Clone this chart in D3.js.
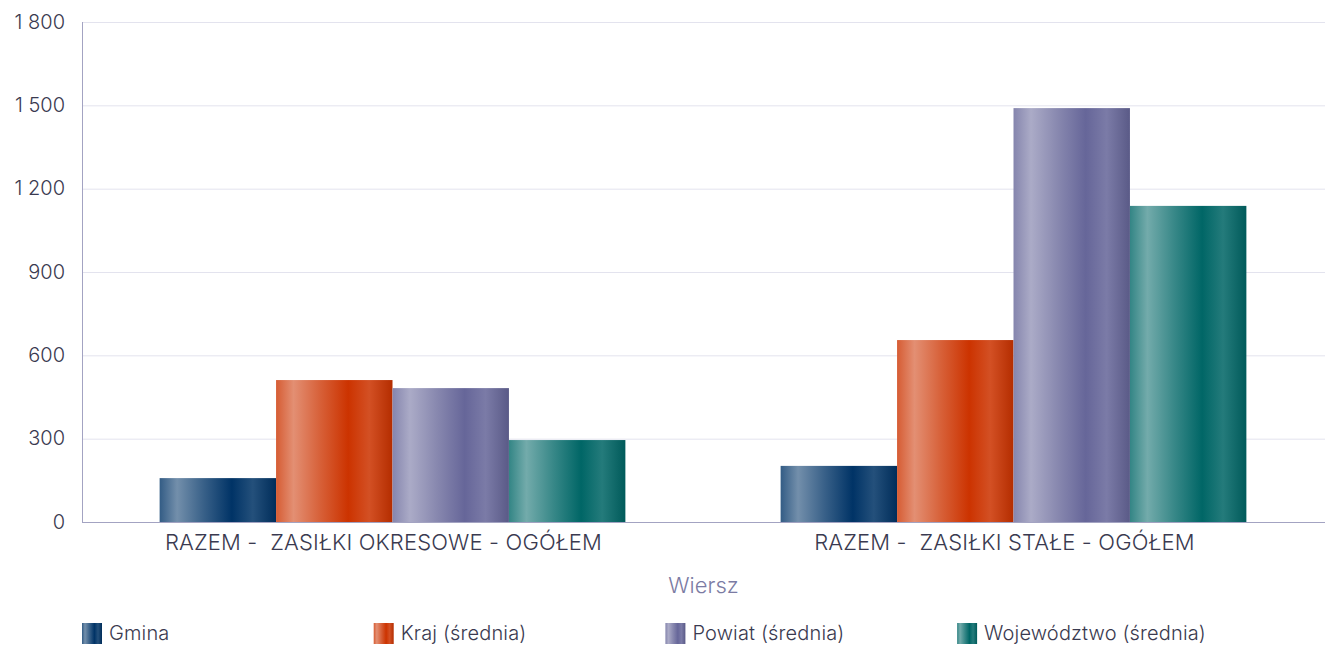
<!DOCTYPE html>
<html>
<head>
<meta charset="utf-8">
<script src="https://cdn.jsdelivr.net/npm/d3@7"></script>
<style>
	body { margin: 0; background: #fff; }
	svg text { font-family: Inter, sans-serif; font-weight: 350; fill: #3a3a50; }
</style>
</head>
<body>
<svg id="chart" width="1325" height="647"></svg>
<script>
const categories = ['RAZEM -  ZASIŁKI OKRESOWE - OGÓŁEM', 'RAZEM -  ZASIŁKI STAŁE - OGÓŁEM']
const seriesNames = ['Gmina', 'Kraj (średnia)', 'Powiat (średnia)', 'Województwo (średnia)']
const gmina = [158, 202]
const kraj = [511, 655]
const powiat = [482, 1490]
const wojewodztwo = [295, 1138]
const yTicks = [0, 300, 600, 900, 1200, 1500, 1800]

const seriesValues = [gmina, kraj, powiat, wojewodztwo]
const baseColors = ['#003366', '#cc3300', '#666699', '#006666']

const margin = { top: 22, right: 1, left: 82, bottom: 125 }
const width = 1325
const height = 647

const svg = d3.select('#chart')
const defs = svg.append('defs')

// metallic look: light streak near the left, darkest band past the middle
baseColors.forEach((c, i) => {
	const grad = defs.append('linearGradient')
		.attr('id', 'grad-' + i)
		.attr('x1', '0%').attr('x2', '100%')
		.attr('y1', '0%').attr('y2', '0%')
	const w = d3.interpolateRgb(c, '#ffffff')
	const k = d3.interpolateRgb(c, '#000000')
	const stops = [
		[0, w(0.2)], [0.15, w(0.45)], [0.38, w(0.22)],
		[0.62, c], [0.8, w(0.14)], [1, k(0.12)]
	]
	stops.forEach(([o, col]) => {
		grad.append('stop').attr('offset', o * 100 + '%').attr('stop-color', col)
	})
})

const y = d3.scaleLinear()
	.domain([0, 1800])
	.range([height - margin.bottom, margin.top])

const x0 = d3.scaleBand()
	.domain(categories)
	.range([margin.left, width - margin.right])
	.paddingInner(0.25)
	.paddingOuter(0.125)

const x1 = d3.scaleBand()
	.domain(d3.range(seriesNames.length))
	.range([0, x0.bandwidth()])

// gridlines
svg.append('g')
	.selectAll('line')
	.data(yTicks.slice(1))
	.join('line')
		.attr('x1', margin.left)
		.attr('x2', width)
		.attr('y1', (d) => y(d) + 0.5)
		.attr('y2', (d) => y(d) + 0.5)
		.attr('stroke', '#e3e3ee')

// y axis labels
svg.append('g')
	.selectAll('text')
	.data(yTicks)
	.join('text')
		.attr('x', 65)
		.attr('y', (d) => y(d))
		.attr('dy', '0.34em')
		.attr('text-anchor', 'end')
		.attr('font-size', 20)
		.text((d) => d3.format(',')(d).replace(',', ' '))

// bars
const groups = svg.append('g')
	.selectAll('g')
	.data(categories)
	.join('g')
		.attr('transform', (d) => `translate(${x0(d)},0)`)

groups.selectAll('rect')
	.data((d, ci) => seriesValues.map((s, si) => ({ si, v: s[ci] })))
	.join('rect')
		.attr('x', (d) => x1(d.si))
		.attr('width', x1.bandwidth())
		.attr('y', (d) => y(d.v))
		.attr('height', (d) => y(0) - y(d.v))
		.attr('fill', (d) => `url(#grad-${d.si})`)

// axis lines
svg.append('line')
	.attr('x1', margin.left + 0.5).attr('x2', margin.left + 0.5)
	.attr('y1', margin.top).attr('y2', y(0))
	.attr('stroke', '#a3a3c2')
svg.append('line')
	.attr('x1', margin.left).attr('x2', width)
	.attr('y1', y(0) + 0.5).attr('y2', y(0) + 0.5)
	.attr('stroke', '#a3a3c2')

// category labels (sit a little left of the group centre in the original)
svg.append('g')
	.selectAll('text')
	.data(categories)
	.join('text')
		.attr('x', (d) => x0(d) + x0.bandwidth() / 2 - 9)
		.attr('y', 550)
		.attr('text-anchor', 'middle')
		.attr('font-size', 22)
		.attr('letter-spacing', 0.15)
		.style('white-space', 'pre')
		.text((d) => d)

svg.append('text')
	.attr('x', (margin.left + width) / 2)
	.attr('y', 593)
	.attr('text-anchor', 'middle')
	.attr('font-size', 22)
	.style('fill', '#7b7ba3')
	.text('Wiersz')

// legend
const legend = svg.append('g')
	.selectAll('g')
	.data(seriesNames)
	.join('g')
		.attr('transform', (d, i) => `translate(${82 + i * 291.7},623)`)

legend.append('rect')
	.attr('width', 20)
	.attr('height', 21)
	.attr('fill', (d, i) => `url(#grad-${i})`)

legend.append('text')
	.attr('x', 27)
	.attr('y', 17)
	.attr('font-size', 20)
	.attr('letter-spacing', 0.15)
	.text((d) => d)
</script>
</body>
</html>
